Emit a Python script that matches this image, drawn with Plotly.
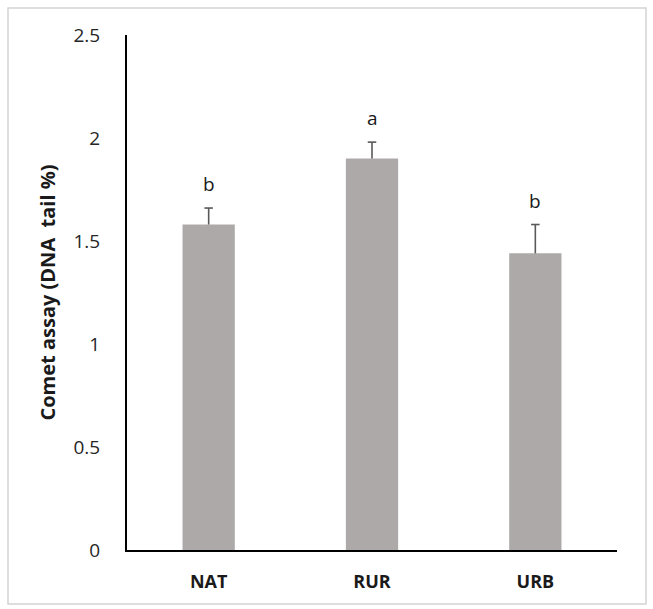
import plotly.graph_objects as go

# Group means and standard errors
sites = ["NAT", "RUR", "URB"]
tail_pct = [1.58, 1.90, 1.44]
tail_err = [0.08, 0.08, 0.14]
letters = ["b", "a", "b"]
y_ticks = [0, 0.5, 1, 1.5, 2, 2.5]
y_tick_text = ["0", "0.5", "1", "1.5", "2", "2.5"]

W, H = 653, 609
ML, MR, MT, MB = 127, 36, 35, 59
PW, PH = W - ML - MR, H - MT - MB

pos = list(range(len(sites)))
BAR_W = 0.32
CAP = 0.026
ERR_COLOR = "#595959"

fig = go.Figure(
    go.Bar(
        x=pos,
        y=tail_pct,
        width=BAR_W,
        marker=dict(color="#aea9a9", line=dict(width=0)),
        hoverinfo="skip",
    )
)

# Upper-only error bars: stem from bar top plus a short cap
ex, ey = [], []
for i, v, e in zip(pos, tail_pct, tail_err):
    ex += [i, i, None, i - CAP, i + CAP, None]
    ey += [v, v + e, None, v + e, v + e, None]
fig.add_trace(go.Scatter(
    x=ex, y=ey, mode="lines",
    line=dict(color=ERR_COLOR, width=1.6),
    hoverinfo="skip",
))

# Significance letters above the error bars
for i, v, e, t in zip(pos, tail_pct, tail_err, letters):
    fig.add_annotation(
        x=i, y=v + e, text=t, showarrow=False, yanchor="bottom", yshift=9,
        font=dict(family="Open Sans", size=19, color="#1a1a1a"),
    )

# Thin frame around the whole figure
def px_x(p):
    return (p - ML) / PW

def px_y(p):
    return (H - MB - p) / PH

fig.add_shape(
    type="rect", xref="paper", yref="paper",
    x0=px_x(8), x1=px_x(646), y0=px_y(604), y1=px_y(8),
    line=dict(color="#d4d4d4", width=1.5), fillcolor="rgba(0,0,0,0)", layer="below",
)

fig.update_layout(
    width=W, height=H,
    margin=dict(l=ML, r=MR, t=MT, b=MB),
    paper_bgcolor="white", plot_bgcolor="white",
    showlegend=False,
    xaxis=dict(
        range=[-0.5, len(sites) - 0.5],
        tickvals=pos, ticktext=sites,
        showline=True, linecolor="black", linewidth=2.2,
        ticks="", showgrid=False, zeroline=False,
        tickfont=dict(family="Open Sans", size=18, color="#1a1a1a", weight="bold"),
        ticklabelstandoff=14,
    ),
    yaxis=dict(
        range=[0, 2.5], tickvals=y_ticks, ticktext=y_tick_text,
        showline=True, linecolor="black", linewidth=2.2,
        ticks="", showgrid=False, zeroline=False,
        tickfont=dict(family="Open Sans", size=19, color="#262626"),
        ticklabelstandoff=21,
        title=dict(
            text="Comet assay (DNA\u00a0 tail %)",
            font=dict(family="Open Sans", size=20, color="#1a1a1a", weight="bold"),
            standoff=12,
        ),
    ),
)

fig.write_html("out.html")
